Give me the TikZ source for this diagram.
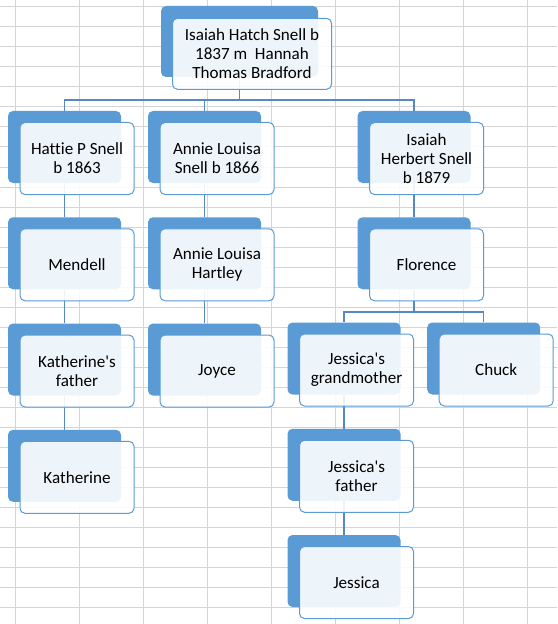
\documentclass[tikz,border=0pt]{standalone}
\usepackage{fontspec}
\setmainfont{Carlito}[Ligatures={NoCommon}]
\usetikzlibrary{positioning}
\pgfdeclarelayer{gridlayer}
\pgfdeclarelayer{background}
\pgfsetlayers{gridlayer,background,main}
\definecolor{smblue}{HTML}{5B9BD5}
\definecolor{linkblue}{HTML}{5588C4}
\definecolor{cellgrid}{HTML}{D4D4D4}

\begin{document}
\begin{tikzpicture}
      [x=0.75pt, y=-0.75pt, node distance=25.3pt,
       back/.style={rectangle, rounded corners=3.75pt, fill=smblue, inner sep=0pt,
                    minimum width=84.75pt, minimum height=54pt},
       front/.style={rectangle, rounded corners=3.75pt, draw=smblue, line width=0.75pt,
                     fill=white, fill opacity=0.9, text opacity=1, inner sep=0pt,
                     minimum width=85.5pt, minimum height=54pt, align=center,
                     font=\fontsize{12.8}{14.3}\selectfont},
       link/.style={draw=linkblue, line width=0.9pt}]
      \useasboundingbox (0,0) rectangle (557,624);

      % worksheet cells behind the chart
      \begin{pgfonlayer}{gridlayer}
        \fill[white] (0,0) rectangle (557,624);
        \foreach \gx in {15,79,...,527}
          \draw[cellgrid, line width=0.75pt] (\gx,0) -- (\gx,624);
        \foreach \gy in {7,27,...,607}
          \draw[cellgrid, line width=0.75pt] (0,\gy) -- (557,\gy);
      \end{pgfonlayer}

      % root
      \node[back, minimum width=117.75pt, minimum height=53.25pt] (isaiah) at (239.5,41.5) {};
      \node[front, minimum width=119.25pt, minimum height=53.25pt] (isaiah-t)
        at ([shift={(12.5,12.3)}]isaiah) {Isaiah Hatch Snell b\\1837 m\ \ Hannah\\Thomas Bradford};

      % children
      \node[back] (hattie) at (64.5,147) {};
      \node[front] (hattie-t) at ([shift={(12.5,11.5)}]hattie) {Hattie P Snell\\b 1863};
      \node[back] (annie) at (204.5,147) {};
      \node[front] (annie-t) at ([shift={(12.5,11.5)}]annie) {Annie Louisa\\Snell b 1866};
      \node[back] (herbert) at (414,147) {};
      \node[front] (herbert-t) at ([shift={(12.5,11.5)}]herbert) {Isaiah\\Herbert Snell\\b 1879};

      \node[back, below=of hattie] (mendell) {};
      \node[front] (mendell-t) at ([shift={(12.5,11.5)}]mendell) {Mendell};
      \node[back, below=of annie] (hartley) {};
      \node[front] (hartley-t) at ([shift={(12.5,11.5)}]hartley) {Annie Louisa\\Hartley};
      \node[back, below=of herbert] (florence) {};
      \node[front] (florence-t) at ([shift={(12.5,11.5)}]florence) {Florence};

      \node[back, below=of mendell] (kfather) {};
      \node[front] (kfather-t) at ([shift={(12.5,11.5)}]kfather) {Katherine\textquotesingle s\\father};
      \node[back, below=of hartley] (joyce) {};
      \node[front] (joyce-t) at ([shift={(12.5,11.5)}]joyce) {Joyce};
      \node[back] (gmother) at (344,358.5) {};
      \node[front] (gmother-t) at ([shift={(12.5,11.5)}]gmother) {Jessica\textquotesingle s\\grandmother};
      \node[back] (chuck) at (483.7,358.5) {};
      \node[front] (chuck-t) at ([shift={(12.5,11.5)}]chuck) {Chuck};

      \node[back, below=of kfather] (katherine) {};
      \node[front] (katherine-t) at ([shift={(12.5,11.5)}]katherine) {Katherine};
      \node[back, below=of gmother] (jfather) {};
      \node[front] (jfather-t) at ([shift={(12.5,11.5)}]jfather) {Jessica\textquotesingle s\\father};
      \node[back, below=of jfather] (jessica) {};
      \node[front] (jessica-t) at ([shift={(12.5,11.5)}]jessica) {Jessica};

      % connectors
      \coordinate (bus1) at (0,100);
      \coordinate (bus2) at (0,312);
      \begin{pgfonlayer}{background}
        \draw[link] (isaiah.south) -- (isaiah.south |- bus1) -| (hattie.north);
        \draw[link] (isaiah.south |- bus1) -| (annie.north);
        \draw[link] (isaiah.south |- bus1) -| (herbert.north);
        \draw[link] (hattie.south) -- (mendell.north);
        \draw[link] (mendell.south) -- (kfather.north);
        \draw[link] (kfather.south) -- (katherine.north);
        \draw[link] (annie.south) -- (hartley.north);
        \draw[link] (hartley.south) -- (joyce.north);
        \draw[link] (herbert.south) -- (florence.north);
        \draw[link] (florence.south) -- (florence.south |- bus2) -| (gmother.north);
        \draw[link] (florence.south |- bus2) -| (chuck.north);
        \draw[link] (gmother.south) -- (jfather.north);
        \draw[link] (jfather.south) -- (jessica.north);
      \end{pgfonlayer}
   \end{tikzpicture}
\end{document}
